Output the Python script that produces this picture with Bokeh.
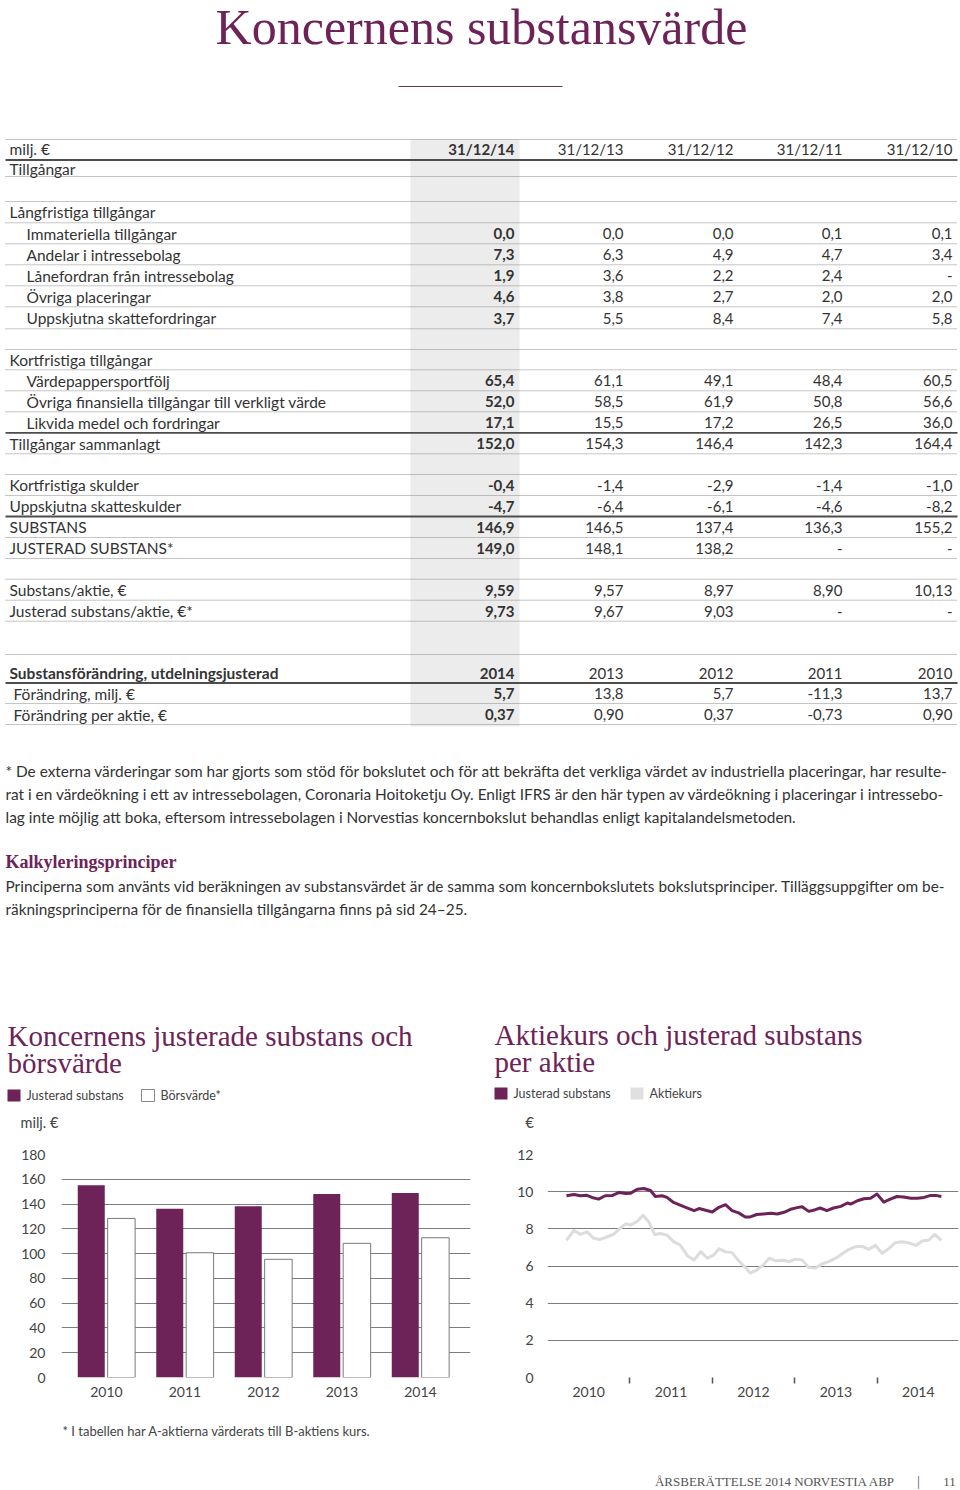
from bokeh.plotting import figure
from bokeh.models import Range1d, FixedTicker, ColumnDataSource
from bokeh.layouts import column, row
from bokeh.core.properties import value
from bokeh.transform import dodge
from bokeh.embed import file_html
from bokeh.resources import INLINE

PURPLE = "#6d2358"
TXT = "#333333"
GRID = "#7d7d7d"
SANS = "Lato"
SERIF = "Liberation Serif"

# ---------------- data ----------------
title = "Koncernens substansvärde"
unit_label = "milj. €"
col_headers = ["31/12/14", "31/12/13", "31/12/12", "31/12/11", "31/12/10"]

row_labels = ["Tillgångar", "", "Långfristiga tillgångar", "Immateriella tillgångar",
              "Andelar i intressebolag", "Lånefordran från intressebolag", "Övriga placeringar",
              "Uppskjutna skattefordringar", "", "Kortfristiga tillgångar", "Värdepappersportfölj",
              "Övriga finansiella tillgångar till verkligt värde", "Likvida medel och fordringar",
              "Tillgångar sammanlagt", "", "Kortfristiga skulder", "Uppskjutna skatteskulder",
              "SUBSTANS", "JUSTERAD SUBSTANS*", "", "Substans/aktie, €", "Justerad substans/aktie, €*"]
row_indent = [0, 0, 0, 1, 1, 1, 1, 1, 0, 0, 1, 1, 1, 0, 0, 0, 0, 0, 0, 0, 0, 0]
val_2014 = ["", "", "", "0,0", "7,3", "1,9", "4,6", "3,7", "", "", "65,4", "52,0", "17,1", "152,0",
            "", "-0,4", "-4,7", "146,9", "149,0", "", "9,59", "9,73"]
val_2013 = ["", "", "", "0,0", "6,3", "3,6", "3,8", "5,5", "", "", "61,1", "58,5", "15,5", "154,3",
            "", "-1,4", "-6,4", "146,5", "148,1", "", "9,57", "9,67"]
val_2012 = ["", "", "", "0,0", "4,9", "2,2", "2,7", "8,4", "", "", "49,1", "61,9", "17,2", "146,4",
            "", "-2,9", "-6,1", "137,4", "138,2", "", "8,97", "9,03"]
val_2011 = ["", "", "", "0,1", "4,7", "2,4", "2,0", "7,4", "", "", "48,4", "50,8", "26,5", "142,3",
            "", "-1,4", "-4,6", "136,3", "-", "", "8,90", "-"]
val_2010 = ["", "", "", "0,1", "3,4", "-", "2,0", "5,8", "", "", "60,5", "56,6", "36,0", "164,4",
            "", "-1,0", "-8,2", "155,2", "-", "", "10,13", "-"]

change_title = "Substansförändring, utdelningsjusterad"
change_years = ["2014", "2013", "2012", "2011", "2010"]
change_labels = ["Förändring, milj. €", "Förändring per aktie, €"]
chg_mkr = ["5,7", "13,8", "5,7", "-11,3", "13,7"]
chg_per_share = ["0,37", "0,90", "0,37", "-0,73", "0,90"]

notes = [
    "* De externa värderingar som har gjorts som stöd för bokslutet och för att bekräfta det verkliga värdet av industriella placeringar, har resulte-",
    "rat i en värdeökning i ett av intressebolagen, Coronaria Hoitoketju Oy. Enligt IFRS är den här typen av värdeökning i placeringar i intressebo-",
    "lag inte möjlig att boka, eftersom intressebolagen i Norvestias koncernbokslut behandlas enligt kapitalandelsmetoden.",
]
principles_head = "Kalkyleringsprinciper"
principles = [
    "Principerna som använts vid beräkningen av substansvärdet är de samma som koncernbokslutets bokslutsprinciper. Tilläggsuppgifter om be-",
    "räkningsprinciperna för de finansiella tillgångarna finns på sid 24–25.",
]

# chart 1: adjusted net asset value vs market cap (MEUR)
bar_years = [2010, 2011, 2012, 2013, 2014]
adj_substans = [155.2, 136.3, 138.2, 148.1, 149.0]
borsvarde = [128.4, 100.7, 95.4, 108.3, 112.8]

# chart 2: share price and adjusted NAV per share (EUR)
nav_t = [2010.23, 2010.32, 2010.40, 2010.47, 2010.54, 2010.62, 2010.70, 2010.79, 2010.87, 2010.95,
         2011.01, 2011.09, 2011.17, 2011.25, 2011.31, 2011.39, 2011.45, 2011.53, 2011.61, 2011.70,
         2011.78, 2011.84, 2011.92, 2012.00, 2012.08, 2012.16, 2012.24, 2012.32, 2012.40, 2012.46,
         2012.54, 2012.62, 2012.71, 2012.79, 2012.87, 2012.95, 2013.03, 2013.09, 2013.17, 2013.25,
         2013.31, 2013.39, 2013.47, 2013.56, 2013.64, 2013.68, 2013.76, 2013.84, 2013.92, 2014.00,
         2014.08, 2014.16, 2014.24, 2014.32, 2014.41, 2014.49, 2014.57, 2014.65, 2014.71, 2014.78]
nav_v = [9.78, 9.85, 9.78, 9.81, 9.69, 9.60, 9.78, 9.80, 9.96, 9.90,
         9.92, 10.13, 10.17, 10.06, 9.74, 9.78, 9.69, 9.42, 9.28, 9.12,
         8.98, 9.09, 9.00, 8.91, 9.16, 9.30, 8.98, 8.86, 8.64, 8.64,
         8.77, 8.80, 8.84, 8.80, 8.89, 9.05, 9.14, 9.19, 8.94, 9.03,
         9.12, 8.98, 9.12, 9.21, 9.39, 9.33, 9.51, 9.62, 9.65, 9.87,
         9.44, 9.60, 9.74, 9.71, 9.65, 9.65, 9.69, 9.80, 9.80, 9.74]
price_t = [2010.23, 2010.32, 2010.40, 2010.48, 2010.56, 2010.64, 2010.72, 2010.80, 2010.89, 2010.95,
           2011.01, 2011.09, 2011.16, 2011.23, 2011.30, 2011.37, 2011.45, 2011.53, 2011.61, 2011.70,
           2011.78, 2011.86, 2011.94, 2012.02, 2012.08, 2012.16, 2012.24, 2012.32, 2012.40, 2012.46,
           2012.54, 2012.62, 2012.69, 2012.77, 2012.85, 2012.93, 2013.01, 2013.09, 2013.17, 2013.25,
           2013.33, 2013.41, 2013.50, 2013.58, 2013.66, 2013.74, 2013.82, 2013.90, 2013.98, 2014.06,
           2014.14, 2014.22, 2014.30, 2014.38, 2014.47, 2014.55, 2014.63, 2014.70, 2014.78]
price_v = [7.38, 7.91, 7.70, 7.84, 7.49, 7.43, 7.56, 7.70, 8.06, 8.27,
           8.20, 8.41, 8.73, 8.37, 7.70, 7.75, 7.66, 7.31, 7.13, 6.54,
           6.33, 6.77, 6.42, 6.60, 6.93, 6.76, 6.72, 6.28, 5.92, 5.62,
           5.78, 6.06, 6.42, 6.28, 6.31, 6.24, 6.37, 6.33, 5.92, 5.89,
           6.10, 6.24, 6.42, 6.67, 6.90, 7.04, 7.06, 6.90, 7.11, 6.69,
           6.93, 7.25, 7.31, 7.25, 7.11, 7.34, 7.40, 7.70, 7.38]

chart1_title = ["Koncernens justerade substans och", "börsvärde"]
chart1_legend = ["Justerad substans", "Börsvärde*"]
chart2_title = ["Aktiekurs och justerad substans", "per aktie"]
chart2_legend = ["Justerad substans", "Aktiekurs"]
footnote = "* I tabellen har A-aktierna värderats till B-aktiens kurs."
footer_text = "ÅRSBERÄTTELSE 2014 NORVESTIA ABP"
page_no = "11"

W = 960


# ---------------- helpers ----------------
def page_fig(y0, y1):
    f = figure(width=W, height=int(round(y1 - y0)), x_range=Range1d(0, W),
               y_range=Range1d(y1, y0), x_axis_type=None, y_axis_type=None,
               output_backend="svg", toolbar_location=None, min_border=0,
               outline_line_color=None, background_fill_color="white",
               border_fill_color="white")
    return f


def txt(f, xs, ys, texts, size="15px", font=SANS, color=TXT, align="left", style="normal"):
    f.text(x=xs, y=ys, text=texts, text_font=value(font), text_font_size=size,
           text_color=color, text_align=align, text_baseline="middle", text_font_style=style)


LBL = "15.5px"
NUM = "15px"

# ---------------- top page figure ----------------
top = page_fig(0, 1140)

# title
txt(top, [481], [26], [title], size="50px", font=SERIF, color=PURPLE, align="center")
top.segment(x0=[398], y0=[86], x1=[562], y1=[86], line_color="#5a3a50", line_width=1)

# highlighted column
top.quad(left=[410], right=[519], top=[139], bottom=[726], fill_color="#ececec", line_color=None)

bounds = [159.5, 176, 201, 222.3, 243.3, 264.3, 285.3, 306.3, 328.3, 349, 369.3, 390.3, 411.3,
          432.3, 453.3, 474, 495, 516, 537, 558, 578.7, 599.7, 620.7]
solid = [159.5, 432.3, 516, 682.5]
dotted = [139] + [b for b in bounds if b not in solid] + [654, 703, 724]
top.segment(x0=[5] * len(dotted), y0=dotted, x1=[957] * len(dotted), y1=dotted,
            line_color="#8a8a8a", line_width=1, line_dash="1 1")
top.segment(x0=[5] * len(solid), y0=solid, x1=[957] * len(solid), y1=solid,
            line_color="#4d4d4d", line_width=1.8)

col_right = [514, 623, 733, 842, 952]

# header row
txt(top, [9], [148.5], [unit_label], size=LBL)
txt(top, [col_right[0]], [148.5], [col_headers[0]], size=NUM, align="right", style="bold")
txt(top, col_right[1:], [148.5] * 4, col_headers[1:], size=NUM, align="right")

yc = [(bounds[i] + bounds[i + 1]) / 2 + 0.3 for i in range(len(row_labels))]
lx, ly, lt = [], [], []
for lab, ind, y in zip(row_labels, row_indent, yc):
    if lab:
        lx.append(26 if ind else 9)
        ly.append(y)
        lt.append(lab)
txt(top, lx, ly, lt, size=LBL)

for j, col in enumerate([val_2014, val_2013, val_2012, val_2011, val_2010]):
    vy = [y for v, y in zip(col, yc) if v]
    vt = [v for v in col if v]
    txt(top, [col_right[j]] * len(vt), vy, vt, size=NUM, align="right",
        style="bold" if j == 0 else "normal")

# change section
txt(top, [9], [672.5], [change_title], size=LBL, style="bold")
txt(top, [col_right[0]], [672.5], [change_years[0]], size=NUM, align="right", style="bold")
txt(top, col_right[1:], [672.5] * 4, change_years[1:], size=NUM, align="right")
txt(top, [13, 13], [693, 714], change_labels, size=LBL)
for j in range(5):
    txt(top, [col_right[j], col_right[j]], [693, 714], [chg_mkr[j], chg_per_share[j]],
        size=NUM, align="right", style="bold" if j == 0 else "normal")

# notes
txt(top, [5, 5, 5], [770, 793, 816], notes, size="15.4px")
txt(top, [5], [861], [principles_head], size="18px", font=SERIF, color=PURPLE, style="bold")
txt(top, [5, 5], [885, 908], principles, size="15.4px")

# chart titles / legends
txt(top, [7, 7], [1035, 1062], chart1_title, size="29px", font=SERIF, color=PURPLE)
txt(top, [494, 494], [1034, 1061], chart2_title, size="29px", font=SERIF, color=PURPLE)

top.quad(left=[7], right=[20], top=[1089], bottom=[1101], fill_color=PURPLE, line_color=None)
top.quad(left=[141], right=[154], top=[1089], bottom=[1101], fill_color="white",
         line_color="#888888", line_width=1)
txt(top, [26, 160], [1095, 1095], chart1_legend, size="12.5px", color="#444444")

top.quad(left=[494], right=[507], top=[1087], bottom=[1099], fill_color=PURPLE, line_color=None)
top.quad(left=[630], right=[643], top=[1087], bottom=[1099], fill_color="#e0e0e0", line_color=None)
txt(top, [513, 649], [1093, 1093], chart2_legend, size="12.5px", color="#444444")

txt(top, [20], [1122], ["milj. €"], size="14.5px", color="#444444")
txt(top, [525], [1122], ["€"], size="14.5px", color="#444444")


# ---------------- chart 1 ----------------
def style_axes(c):
    for ax in (c.xaxis, c.yaxis):
        ax.axis_line_color = None
        ax.major_tick_line_color = None
        ax.major_tick_in = 0
        ax.major_tick_out = 0
        ax.minor_tick_line_color = None
        ax.major_label_text_font = SANS
        ax.major_label_text_font_size = "14px"
        ax.major_label_text_color = "#444444"
    c.xgrid.visible = False
    c.ygrid.grid_line_color = GRID
    c.ygrid.grid_line_width = 1


src1 = ColumnDataSource(dict(year=bar_years, adj=adj_substans, mcap=borsvarde))
c1 = figure(width=480, height=270, x_range=Range1d(2009.427, 2014.637), y_range=Range1d(0, 180),
            output_backend="svg", toolbar_location=None, min_border_left=61, min_border_right=10,
            min_border_top=14, min_border_bottom=33, outline_line_color=None)
style_axes(c1)
c1.vbar(x=dodge("year", -0.194), top="adj", width=0.344, source=src1,
        fill_color=PURPLE, line_color=None)
c1.vbar(x=dodge("year", 0.19), top="mcap", width=0.35, source=src1,
        fill_color="white", line_color="#7a7a7a", line_width=1)
c1.xaxis.ticker = FixedTicker(ticks=bar_years)
c1.xaxis.major_label_overrides = {y: str(y) for y in bar_years}
c1.xaxis.major_label_standoff = 9
c1.yaxis.ticker = FixedTicker(ticks=list(range(0, 181, 20)))
c1.yaxis.major_label_standoff = 16

# ---------------- chart 2 ----------------
c2 = figure(width=480, height=270, x_range=Range1d(2010, 2014.988), y_range=Range1d(0, 12),
            output_backend="svg", toolbar_location=None, min_border_left=67, min_border_right=2,
            min_border_top=13, min_border_bottom=32, outline_line_color=None)
style_axes(c2)
c2.line(price_t, price_v, line_color="#dcdcdc", line_width=3, line_join="round")
c2.line(nav_t, nav_v, line_color=PURPLE, line_width=3, line_join="round")
mid = [2010.5, 2011.5, 2012.5, 2013.5, 2014.5]
c2.xaxis.ticker = FixedTicker(ticks=mid, minor_ticks=[2011, 2012, 2013, 2014])
c2.xaxis.major_label_overrides = {m: str(int(m)) for m in mid}
c2.xaxis.minor_tick_line_color = "#555555"
c2.xaxis.minor_tick_line_width = 1.5
c2.xaxis.minor_tick_in = 0
c2.xaxis.minor_tick_out = 6
c2.xaxis.major_label_standoff = 3
c2.yaxis.ticker = FixedTicker(ticks=list(range(0, 13, 2)))
c2.yaxis.major_label_standoff = 14

# ---------------- bottom ----------------
bot = page_fig(1410, 1490)
txt(bot, [62], [1430], [footnote], size="13px", color="#444444")
txt(bot, [895], [1481], [footer_text], size="13px", font=SERIF, color="#555555", align="right")
txt(bot, [918], [1480], ["|"], size="15px", font=SERIF, color="#555555", align="center")
txt(bot, [949], [1481], [page_no], size="13px", font=SERIF, color="#555555", align="center")

layout = column(top, row(c1, c2, spacing=0), bot, spacing=0)
open("out.html", "w").write(file_html(layout, INLINE))
